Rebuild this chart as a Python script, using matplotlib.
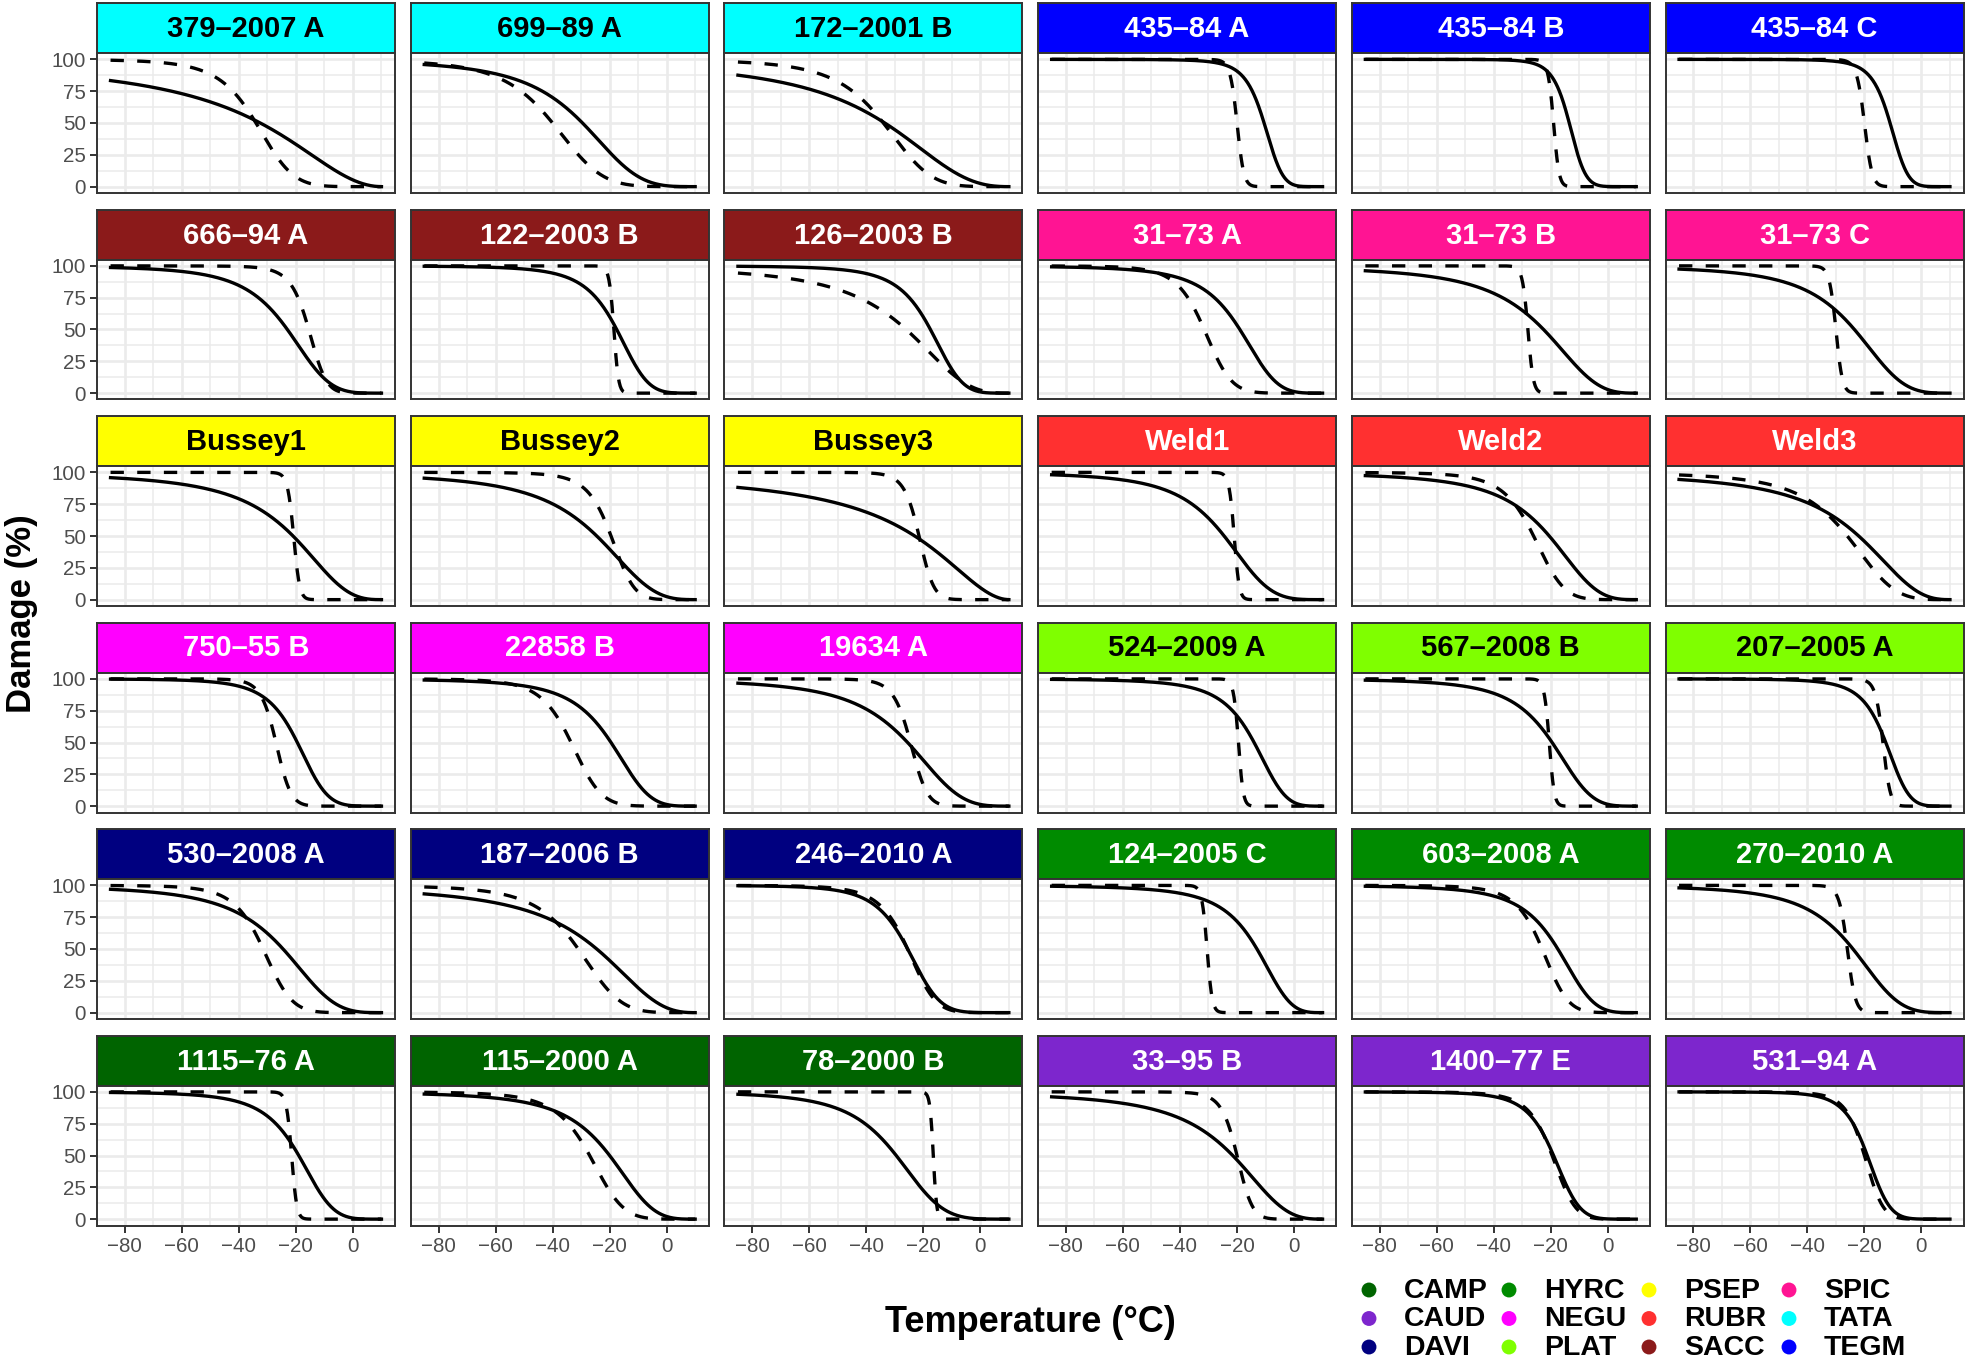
import numpy as np
import matplotlib
matplotlib.use("Agg")
import matplotlib.pyplot as plt

plt.rcParams['font.family'] = ['Liberation Sans', 'DejaVu Sans']

# facet labels, row by row
panel_names = [
    '379–2007 A', '699–89 A', '172–2001 B', '435–84 A', '435–84 B', '435–84 C',
    '666–94 A', '122–2003 B', '126–2003 B', '31–73 A', '31–73 B', '31–73 C',
    'Bussey1', 'Bussey2', 'Bussey3', 'Weld1', 'Weld2', 'Weld3',
    '750–55 B', '22858 B', '19634 A', '524–2009 A', '567–2008 B', '207–2005 A',
    '530–2008 A', '187–2006 B', '246–2010 A', '124–2005 C', '603–2008 A', '270–2010 A',
    '1115–76 A', '115–2000 A', '78–2000 B', '33–95 B', '1400–77 E', '531–94 A',
]
panel_group = [
    'TATA', 'TATA', 'TATA', 'TEGM', 'TEGM', 'TEGM',
    'SACC', 'SACC', 'SACC', 'SPIC', 'SPIC', 'SPIC',
    'PSEP', 'PSEP', 'PSEP', 'RUBR', 'RUBR', 'RUBR',
    'NEGU', 'NEGU', 'NEGU', 'PLAT', 'PLAT', 'PLAT',
    'DAVI', 'DAVI', 'DAVI', 'HYRC', 'HYRC', 'HYRC',
    'CAMP', 'CAMP', 'CAMP', 'CAUD', 'CAUD', 'CAUD',
]

# fitted damage curves: temperature at 50 % damage and slope
solid_lt50 = [-32.5, -29.5, -33.5, -10.5, -13.5, -11,
              -23, -17.5, -17.5, -19, -22.5, -23.5,
              -21, -24.5, -23, -24.5, -20.5, -22,
              -19.5, -19.5, -25.5, -14, -19.5, -12.5,
              -24.5, -24.5, -25.5, -13, -17.5, -24,
              -19, -20, -29.5, -21.5, -19, -19]
solid_slope = [2.0, 3.6, 2.5, 6, 8, 6.4,
               4.1, 4.7, 4.6, 4.1, 3, 3.5,
               2.8, 3, 1.9, 3.9, 3.2, 2.6,
               5.3, 4, 3.4, 4, 3.9, 5.2,
               3.4, 2.6, 6, 3.5, 4, 3.8,
               4.5, 3.5, 4.5, 2.9, 6, 7]
dashed_lt50 = [-34, -40, -34, -20, -19, -20,
               -15.5, -18.5, -26, -31.5, -28, -30,
               -20.8, -19.5, -21.5, -21, -26, -26,
               -27, -33.5, -24.5, -19.5, -20.5, -13.5,
               -31.5, -31, -25.5, -30.5, -23, -26,
               -21.5, -27, -16.5, -20, -19.5, -20]
dashed_slope = [6.5, 5.5, 5, 25, 30, 22,
                8, 35, 2.9, 8.5, 40, 35,
                29, 7, 12, 35, 6.5, 4,
                14, 8, 11.5, 35, 35, 18,
                8, 5.2, 7, 45, 7, 25,
                35, 6, 45, 11, 7, 9]

group_names = ['CAMP', 'CAUD', 'DAVI', 'HYRC', 'NEGU', 'PLAT',
               'PSEP', 'RUBR', 'SACC', 'SPIC', 'TATA', 'TEGM']
group_colors = ['#006400', '#7D26CD', '#000080', '#008B00', '#FF00FF', '#7FFF00',
                '#FFFF00', '#FF3030', '#8B1A1A', '#FF1493', '#00FFFF', '#0000FF']
light_groups = ['PLAT', 'PSEP', 'TATA']  # these strips get black text

x_ticks = [-80, -60, -40, -20, 0]
y_ticks = [0, 25, 50, 75, 100]

temp = np.linspace(-85, 10, 500)


def damage(lt50, slope):
    u = np.clip(10 - temp, 1e-9, None)
    return 100 / (1 + ((10 - lt50) / u) ** slope)


W, H = 1966, 1360
fig = plt.figure(figsize=(W / 100, H / 100), dpi=100)


def box(x, y, w, h):
    return [x / W, 1 - (y + h) / H, w / W, h / H]


color_of = dict(zip(group_names, group_colors))
edge = '#333333'

for i, name in enumerate(panel_names):
    r, c = divmod(i, 6)
    x0 = 97 + 313.7 * c
    y0 = 3 + 206.5 * r

    # strip
    sax = fig.add_axes(box(x0, y0, 298, 50))
    grp = panel_group[i]
    sax.set_facecolor(color_of[grp])
    sax.set_xticks([])
    sax.set_yticks([])
    for sp in sax.spines.values():
        sp.set_color(edge)
        sp.set_linewidth(1.4)
    sax.text(0.5, 0.48, name, ha='center', va='center', fontsize=21, fontweight='bold',
             color='black' if grp in light_groups else 'white', transform=sax.transAxes)

    # panel
    ax = fig.add_axes(box(x0, y0 + 50, 298, 140))
    ax.plot(temp, damage(solid_lt50[i], solid_slope[i]), color='black', lw=2.4)
    ax.plot(temp, damage(dashed_lt50[i], dashed_slope[i]), color='black', lw=2.4,
            linestyle=(0, (4, 4)), dash_capstyle='butt')
    ax.set_xlim(-89.75, 14.75)
    ax.set_ylim(-5, 105)
    ax.set_xticks(x_ticks)
    ax.set_xticks([-70, -50, -30, -10, 10], minor=True)
    ax.set_yticks(y_ticks)
    ax.set_yticks([12.5, 37.5, 62.5, 87.5], minor=True)
    ax.set_xticklabels([str(t).replace('-', '−') for t in x_ticks])
    ax.set_yticklabels([str(t) for t in y_ticks])
    ax.grid(which='major', color='#EBEBEB', lw=1.9)
    ax.grid(which='minor', color='#EBEBEB', lw=1.1)
    ax.set_axisbelow(True)
    for sp in ax.spines.values():
        sp.set_color(edge)
        sp.set_linewidth(1.4)
    ax.tick_params(which='major', length=5, width=1.4, color=edge, labelsize=14.8,
                   labelcolor='#4D4D4D', pad=3)
    ax.tick_params(which='minor', length=0)
    if c != 0:
        ax.tick_params(left=False, labelleft=False)
    if r != 5:
        ax.tick_params(bottom=False, labelbottom=False)

# overlay for axis titles and legend
ov = fig.add_axes([0, 0, 1, 1])
ov.set_xlim(0, W)
ov.set_ylim(H, 0)
ov.axis('off')
ov.patch.set_alpha(0)

ov.text(1030, 1323, 'Temperature (°C)', ha='center', va='center', fontsize=26, fontweight='bold')
ov.text(22, 614, 'Damage (%)', ha='center', va='center', rotation=90, fontsize=25, fontweight='bold')

for i, (g, col) in enumerate(zip(group_names, group_colors)):
    cc, rr = divmod(i, 3)
    ov.scatter(1369 + 140 * cc, 1290 + 28.5 * rr, s=115, color=col, edgecolors='none')
    ov.text(1404 + 140 * cc, 1291 + 28.5 * rr, g, ha='left', va='center', fontsize=20.5, fontweight='bold')

fig.savefig('out.png', dpi=100)
